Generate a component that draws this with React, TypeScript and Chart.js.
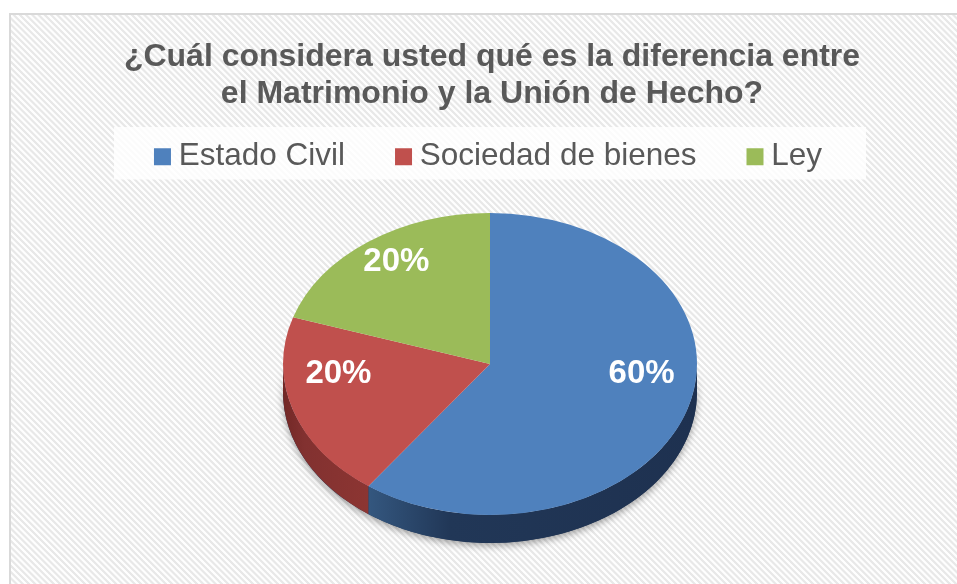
import React, { useEffect, useRef } from "react";
import { Chart, registerables } from "chart.js";

Chart.register(...registerables);

// ---- data ----
const TITLE_LINES = [
  "¿Cuál considera usted qué es la diferencia entre",
  "el Matrimonio y la Unión de Hecho?",
];
const CATEGORIES = ["Estado Civil", "Sociedad de bienes", "Ley"];
const PERCENT_VALUES = [60, 20, 20];

// ---- styles ----
const TOP_COLORS = ["#4f81bd", "#c0504d", "#9bbb59"];
const SIDE_LEFT = ["#34577f", "#722826", "#6c8a3a"];
const SIDE_MID = ["#213757", "#823130", "#5f7a32"];
const SIDE_RIGHT = ["#1e3150", "#8c3532", "#5b7430"];
const FONT = '"Liberation Sans", Arial, Helvetica, sans-serif';
const TEXT_COLOR = "#595959";

const PIE_CX = 479;
const PIE_CY = 349;
const PIE_RX = 207;
const PIE_RY = 151;
const PIE_DEPTH = 28;

function frontRange(start: number, end: number): [number, number] | null {
  const TAU = Math.PI * 2;
  for (let k = -2; k <= 2; k++) {
    const s = Math.max(start + k * TAU, 0);
    const e = Math.min(end + k * TAU, Math.PI);
    if (e > s) return [s, e];
  }
  return null;
}

const pie3dPlugin = {
  id: "pie3d",
  beforeDraw(chart: any) {
    const ctx = chart.ctx;
    const lg = chart.legend;
    if (lg && lg.legendHitBoxes && lg.legendHitBoxes.length) {
      const hb = lg.legendHitBoxes;
      const first = hb[0];
      const last = hb[hb.length - 1];
      const left = first.left - 48;
      const right = last.left + last.width + 44;
      const top = first.top - 14;
      const bottom = first.top + first.height + 7;
      ctx.save();
      ctx.fillStyle = "rgba(255,255,255,0.82)";
      ctx.fillRect(left, top, right - left, bottom - top);
      ctx.restore();
    }
  },
  beforeDatasetsDraw(chart: any) {
    const meta = chart.getDatasetMeta(0);
    const arcs = meta.data as any[];
    if (!arcs.length) return;
    const ctx = chart.ctx;
    // soft shadow under the pie
    ctx.save();
    ctx.shadowColor = "rgba(0,0,0,0.35)";
    ctx.shadowBlur = 7;
    ctx.shadowOffsetY = 3;
    ctx.fillStyle = "#1e3150";
    ctx.beginPath();
    ctx.ellipse(PIE_CX, PIE_CY, PIE_RX, PIE_RY, 0, 0, Math.PI);
    ctx.ellipse(PIE_CX, PIE_CY + PIE_DEPTH, PIE_RX, PIE_RY, 0, Math.PI, 0, true);
    ctx.closePath();
    ctx.fill();
    ctx.restore();
    // side walls
    arcs.forEach((arc: any, i: number) => {
      const { startAngle, endAngle } = arc.getProps(["startAngle", "endAngle"], true);
      const r = frontRange(startAngle, endAngle);
      if (!r) return;
      const [s, e] = r;
      const xl = PIE_CX + PIE_RX * Math.cos(e);
      const xr = PIE_CX + PIE_RX * Math.cos(s);
      const g = ctx.createLinearGradient(xl, 0, xr, 0);
      g.addColorStop(0, SIDE_LEFT[i]);
      g.addColorStop(0.25, SIDE_MID[i]);
      g.addColorStop(1, SIDE_RIGHT[i]);
      ctx.save();
      ctx.fillStyle = g;
      ctx.beginPath();
      ctx.ellipse(PIE_CX, PIE_CY, PIE_RX, PIE_RY, 0, s, e);
      ctx.ellipse(PIE_CX, PIE_CY + PIE_DEPTH, PIE_RX, PIE_RY, 0, e, s, true);
      ctx.closePath();
      ctx.fill();
      ctx.restore();
    });
    // squash the top face
    const a0 = arcs[0];
    ctx.save();
    ctx.translate(PIE_CX, PIE_CY);
    ctx.scale(1, PIE_RY / PIE_RX);
    ctx.translate(-a0.x, -a0.y);
  },
  afterDatasetsDraw(chart: any) {
    const meta = chart.getDatasetMeta(0);
    const arcs = meta.data as any[];
    if (!arcs.length) return;
    const ctx = chart.ctx;
    ctx.restore();
    const values = chart.data.datasets[0].data as number[];
    const total = values.reduce((a, b) => a + b, 0);
    ctx.save();
    ctx.fillStyle = "#ffffff";
    ctx.font = `bold 33px ${FONT}`;
    ctx.textAlign = "center";
    ctx.textBaseline = "middle";
    arcs.forEach((arc: any, i: number) => {
      const { startAngle, endAngle } = arc.getProps(["startAngle", "endAngle"], true);
      const mid = (startAngle + endAngle) / 2;
      const x = PIE_CX + 0.77 * PIE_RX * Math.cos(mid);
      const y = PIE_CY + 0.66 * PIE_RY * Math.sin(mid) - 21;
      ctx.fillText(`${Math.round((values[i] / total) * 100)}%`, x, y);
    });
    ctx.restore();
  },
};

export default function App() {
  const canvasRef = useRef<HTMLCanvasElement | null>(null);

  useEffect(() => {
    if (!canvasRef.current) return;
    const chart = new Chart(canvasRef.current, {
      type: "pie",
      data: {
        labels: CATEGORIES,
        datasets: [
          {
            data: PERCENT_VALUES,
            backgroundColor: TOP_COLORS,
            borderWidth: 0,
            radius: PIE_RX,
            clip: false,
          } as any,
        ],
      },
      options: {
        animation: false,
        responsive: true,
        maintainAspectRatio: false,
        events: [],
        layout: { padding: { left: 4, right: 0, top: 0, bottom: 0 } },
        plugins: {
          tooltip: { enabled: false },
          title: {
            display: true,
            text: TITLE_LINES,
            color: TEXT_COLOR,
            font: { family: FONT, size: 32, weight: "bold", lineHeight: 37 / 32 },
            padding: { top: 23.5, bottom: -29.5 },
          },
          legend: {
            display: true,
            position: "top",
            align: "center",
            labels: {
              usePointStyle: true,
              pointStyle: "rect",
              boxWidth: 1,
              boxHeight: 17,
              padding: 58,
              color: TEXT_COLOR,
              font: { family: FONT, size: 31.5 },
            },
          },
        },
      } as any,
      plugins: [pie3dPlugin as any],
    });
    return () => chart.destroy();
  }, []);

  return (
    <div
      style={{
        position: "fixed",
        left: 0,
        top: 0,
        width: 957,
        height: 584,
        overflow: "hidden",
        background: "#ffffff",
      }}
    >
      <div
        style={{
          position: "absolute",
          left: 9,
          top: 13,
          width: 1000,
          height: 640,
          boxSizing: "border-box",
          border: "2px solid #d9d9d9",
          background:
            "repeating-linear-gradient(45deg, #fefefe 0px, #fefefe 1.4px, #e8e8e8 2.2px, #e8e8e8 3.6px, #fefefe 4.4px)",
        }}
      />
      <div style={{ position: "absolute", left: 11, top: 15, width: 958, height: 569 }}>
        <canvas ref={canvasRef} />
      </div>
    </div>
  );
}
